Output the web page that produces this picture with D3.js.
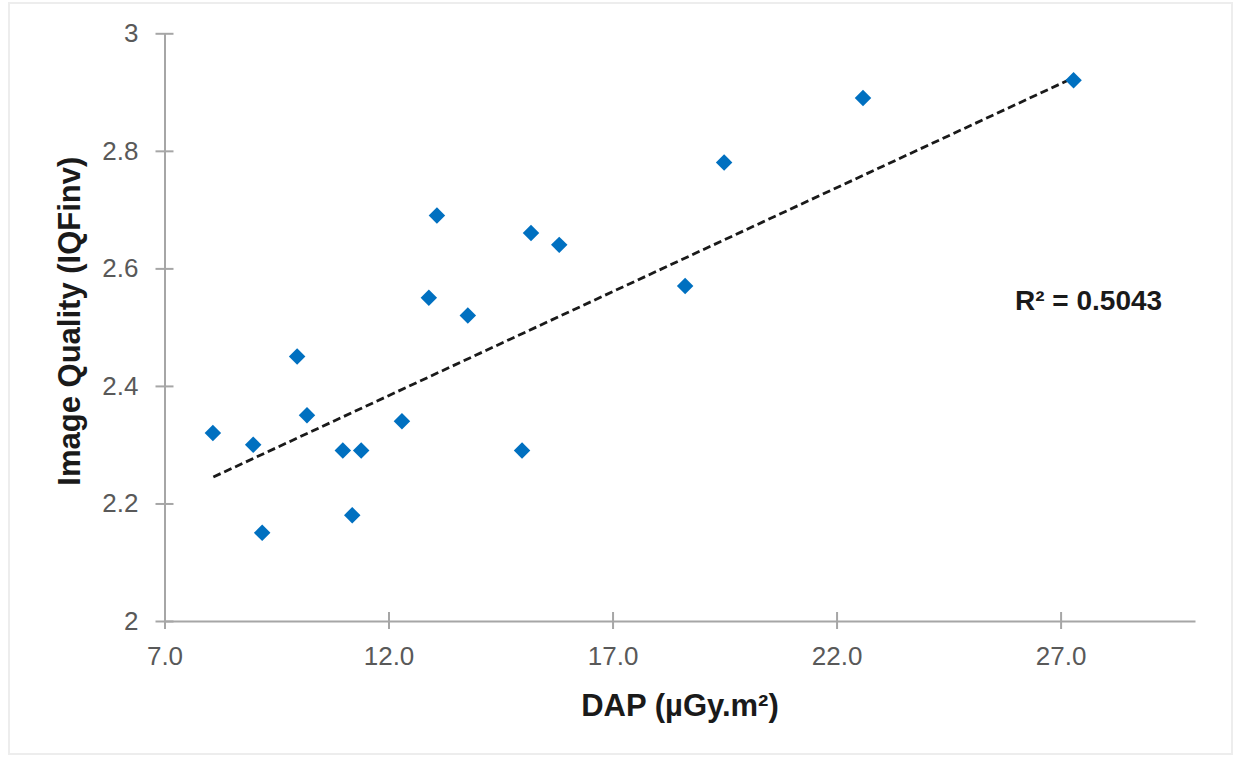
<!DOCTYPE html>
<html>
<head>
<meta charset="utf-8">
<script src="https://cdn.jsdelivr.net/npm/d3@7"></script>
<style>
  body { margin: 0; background: #fff; }
  text { font-family: "Liberation Sans", Arial, sans-serif; }
</style>
</head>
<body>
<div id="chartContainer"></div>
<script>
// DAP values (x) and image quality (y)
const dap = [8.08, 8.98, 9.18, 9.96, 10.18, 10.98, 11.19, 11.39, 12.30, 12.90,
             13.08, 13.77, 14.98, 15.18, 15.81, 18.62, 19.49, 22.59, 27.29];
const iqf = [2.32, 2.30, 2.15, 2.45, 2.35, 2.29, 2.18, 2.29, 2.34, 2.55,
             2.69, 2.52, 2.29, 2.66, 2.64, 2.57, 2.78, 2.89, 2.92];

// trend line ends as drawn in the picture
const trendX = [8.09, 27.25];
const trendY = [2.245, 2.923];

const xTicks = [7, 12, 17, 22, 27];
const yTicks = [2, 2.2, 2.4, 2.6, 2.8, 3];
const rSquared = "0.5043";

const width = 1238;
const height = 757;
const marginLeft = 164.5;
const marginRight = 43;
const marginTop = 33.3;
const marginBottom = 136;

const x = d3.scaleLinear().domain([7, 30]).range([marginLeft, width - marginRight]);
const y = d3.scaleLinear().domain([2, 3]).range([height - marginBottom, marginTop]);

const svg = d3.create("svg")
    .attr("width", width)
    .attr("height", height)
    .attr("viewBox", [0, 0, width, height]);

// faint frame around the picture
svg.append("rect")
    .attr("x", 9).attr("y", 3)
    .attr("width", 1223).attr("height", 751)
    .attr("fill", "none")
    .attr("stroke", "#ededed")
    .attr("stroke-width", 2);

const axisColor = "#a6a6a6";
const labelColor = "#595959";

// x axis
const gx = svg.append("g")
    .attr("transform", `translate(0,${y(2)})`)
    .call(d3.axisBottom(x).tickValues(xTicks).tickFormat(d3.format(".1f")).tickSize(8).tickSizeOuter(0));
gx.select(".domain").attr("stroke", axisColor).attr("stroke-width", 2);
gx.selectAll(".tick line").attr("stroke", axisColor).attr("stroke-width", 2).attr("y1", -9).attr("y2", 8);
gx.selectAll(".tick text")
    .attr("fill", labelColor)
    .attr("font-size", 26)
    .attr("y", 26)
    .attr("dy", "0.71em");

// y axis
const gy = svg.append("g")
    .attr("transform", `translate(${x(7)},0)`)
    .call(d3.axisLeft(y).tickValues(yTicks).tickFormat(d => d3.format("")(+d.toFixed(1))).tickSize(9).tickSizeOuter(0));
gy.select(".domain").attr("stroke", axisColor).attr("stroke-width", 2);
gy.selectAll(".tick line").attr("stroke", axisColor).attr("stroke-width", 2).attr("x1", 9).attr("x2", -9);
gy.selectAll(".tick text")
    .attr("fill", labelColor)
    .attr("font-size", 26)
    .attr("x", -26);

// trend line
const line = d3.line()
    .x(d => x(d[0]))
    .y(d => y(d[1]));

svg.append("path")
    .attr("fill", "none")
    .attr("stroke", "#1a1a1a")
    .attr("stroke-width", 2.8)
    .attr("stroke-dasharray", "8,4")
    .attr("d", line(d3.zip(trendX, trendY)));

// points
const diamond = d3.symbol().type(d3.symbolSquare).size(136);
svg.append("g")
    .selectAll("path")
    .data(d3.zip(dap, iqf))
    .join("path")
    .attr("transform", d => `translate(${x(d[0])},${y(d[1])}) rotate(45)`)
    .attr("d", diamond)
    .attr("fill", "#0070C0");

// R² label
svg.append("text")
    .attr("x", 1015)
    .attr("y", 310)
    .attr("font-size", 28)
    .attr("font-weight", "bold")
    .attr("fill", "#1a1a1a")
    .text(`R² = ${rSquared}`);

// axis titles
svg.append("text")
    .attr("x", 680)
    .attr("y", 716)
    .attr("text-anchor", "middle")
    .attr("font-size", 31)
    .attr("font-weight", "bold")
    .attr("fill", "#1a1a1a")
    .text("DAP (µGy.m²)");

svg.append("text")
    .attr("transform", `translate(80,${(y(2) + y(3)) / 2 - 6}) rotate(-90)`)
    .attr("text-anchor", "middle")
    .attr("font-size", 31)
    .attr("font-weight", "bold")
    .attr("fill", "#1a1a1a")
    .text("Image Quality (IQFinv)");

document.getElementById('chartContainer').appendChild(svg.node());
</script>
</body>
</html>
